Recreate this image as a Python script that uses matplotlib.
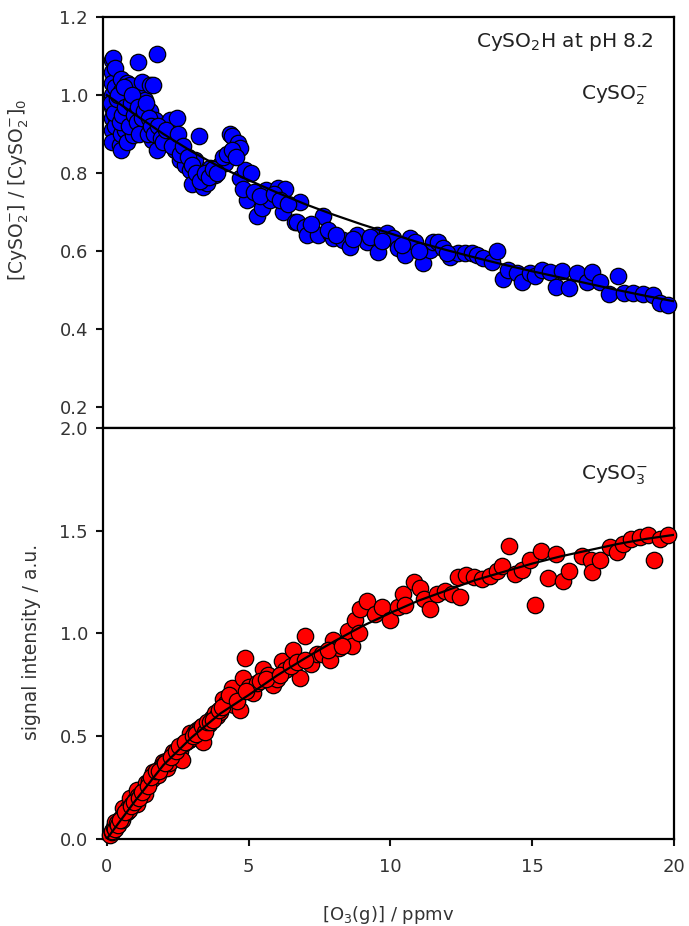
import matplotlib
matplotlib.use("Agg")
import matplotlib.pyplot as plt

plt.rcParams['font.family'] = ['DejaVu Sans']
plt.rcParams['mathtext.default'] = 'regular'

# ---------------- data: top panel (CySO2-) ----------------
top_x = [0.2, 0.2, 0.2, 0.2, 0.2, 0.2, 0.2, 0.2, 0.23, 0.3, 0.3, 0.3, 0.3,
         0.47, 0.5, 0.5, 0.5, 0.5, 0.5, 0.58, 0.64, 0.7, 0.7, 0.7, 0.7, 0.7,
         0.75, 0.82, 0.93, 1.0, 1.09, 1.17, 1.24, 1.35, 1.42, 1.53, 1.53,
         1.6, 1.64, 1.7, 1.77, 1.77, 1.88, 2.05, 2.16, 2.23, 2.24, 2.4, 2.47,
         2.58, 2.58, 2.76, 2.94, 3.0, 3.12, 3.25, 3.28, 3.4, 3.54, 3.64, 3.82,
         4.0, 4.17, 4.35, 4.42, 4.46, 4.63, 4.7, 4.7, 4.88, 4.95, 5.1, 5.3,
         5.47, 5.6, 5.75, 6.03, 6.2, 6.28, 6.63, 6.7, 6.8, 7.0, 7.06, 7.45,
         7.63, 7.87, 7.98, 8.33, 8.58, 8.82, 9.17, 9.52, 9.57, 9.88, 10.1,
         10.27, 10.52, 10.7, 10.87, 11.16, 11.4, 11.5, 11.68, 11.86, 12.1,
         12.4, 12.64, 12.89, 13.05, 13.28, 13.58, 13.76, 13.98, 14.15, 14.47,
         14.65, 14.93, 15.1, 15.35, 15.63, 15.84, 16.05, 16.3, 16.6, 16.93,
         17.1, 17.38, 17.7, 18.03, 18.24, 18.55, 18.9, 19.25, 19.5, 19.78,
         0.15, 0.25, 0.35, 0.4, 0.45, 0.55, 0.6, 0.65, 0.8, 0.85, 0.9, 0.95,
         1.05, 1.1, 1.15, 1.25, 1.3, 1.4, 1.45, 1.5, 1.55, 1.65, 1.8, 1.9,
         2.0, 2.1, 2.3, 2.5, 2.6, 2.7, 2.85, 3.0, 3.15, 3.3, 3.45, 3.6, 3.75,
         3.9, 4.1, 4.25, 4.4, 4.55, 4.8, 5.2, 5.4, 5.9, 6.1, 6.4, 7.2, 7.8,
         8.1, 8.7, 9.3, 9.7, 10.4, 11.0, 12.0]
top_y = [1.09, 1.06, 1.03, 1.00, 0.97, 0.94, 0.91, 0.88, 1.095, 1.07, 1.02,
         0.95, 0.92, 0.872, 0.86, 0.90, 0.97, 1.01, 1.04, 0.99, 0.91, 0.88,
         0.93, 0.96, 0.99, 1.03, 0.936, 1.026, 0.897, 0.96, 1.085, 1.0, 1.033,
         0.987, 0.923, 0.96, 1.026, 0.885, 1.026, 0.936, 0.86, 1.105, 0.91,
         0.923, 0.897, 0.936, 0.885, 0.86, 0.94, 0.833, 0.872, 0.82, 0.808,
         0.772, 0.833, 0.895, 0.795, 0.764, 0.774, 0.813, 0.795, 0.82, 0.826,
         0.90, 0.895, 0.846, 0.877, 0.864, 0.787, 0.808, 0.73, 0.80, 0.69,
         0.71, 0.756, 0.73, 0.762, 0.70, 0.76, 0.675, 0.675, 0.726, 0.662,
         0.641, 0.641, 0.69, 0.646, 0.633, 0.628, 0.61, 0.641, 0.623, 0.64,
         0.597, 0.646, 0.633, 0.608, 0.59, 0.633, 0.623, 0.569, 0.603, 0.623,
         0.623, 0.608, 0.585, 0.595, 0.595, 0.595, 0.59, 0.582, 0.572, 0.60,
         0.528, 0.551, 0.544, 0.521, 0.544, 0.535, 0.551, 0.546, 0.508, 0.549,
         0.505, 0.544, 0.521, 0.546, 0.521, 0.49, 0.536, 0.492, 0.492, 0.49,
         0.487, 0.467, 0.462,
         0.98, 0.955, 0.99, 1.0, 0.93, 0.95, 1.02, 0.97, 0.92, 0.98, 1.0, 0.95,
         0.93, 0.97, 0.90, 0.94, 0.96, 0.98, 0.90, 0.94, 0.92, 0.90, 0.92, 0.89,
         0.88, 0.91, 0.87, 0.90, 0.85, 0.87, 0.84, 0.82, 0.80, 0.78, 0.80, 0.79,
         0.81, 0.80, 0.84, 0.85, 0.86, 0.84, 0.76, 0.75, 0.74, 0.745, 0.73,
         0.72, 0.67, 0.655, 0.64, 0.63, 0.635, 0.625, 0.615, 0.60, 0.595]
top_fit_x = [0, 1, 2, 3, 4, 5, 6, 7, 8, 9, 10, 11, 12, 13, 14, 15, 16, 17, 18, 19, 20]
top_fit_y = [1.0, 0.95, 0.90, 0.855, 0.815, 0.782, 0.75, 0.72, 0.693, 0.668,
             0.645, 0.622, 0.602, 0.583, 0.565, 0.548, 0.532, 0.516, 0.50,
             0.485, 0.471]

# ---------------- data: bottom panel (CySO3-) ----------------
bot_x = [0.1, 0.18, 0.2, 0.25, 0.29, 0.3, 0.35, 0.4, 0.5, 0.55, 0.58, 0.6,
         0.7, 0.75, 0.8, 0.82, 0.9, 1.0, 1.05, 1.06, 1.1, 1.2, 1.3, 1.35, 1.4,
         1.5, 1.6, 1.64, 1.7, 1.8, 1.9, 1.99, 2.0, 2.1, 2.12, 2.2, 2.3, 2.34,
         2.4, 2.5, 2.6, 2.65, 2.7, 2.8, 2.9, 2.94, 3.0, 3.1, 3.2, 3.29, 3.3,
         3.4, 3.5, 3.6, 3.7, 3.82, 3.9, 4.0, 4.1, 4.2, 4.42, 4.5, 4.7, 4.81,
         4.88, 5.0, 5.16, 5.3, 5.51, 5.7, 5.87, 6.0, 6.17, 6.3, 6.57, 6.81,
         6.99, 7.2, 7.41, 7.6, 7.87, 7.99, 8.2, 8.51, 8.65, 8.76, 8.93, 9.18,
         9.46, 9.7, 10.0, 10.27, 10.45, 10.52, 10.83, 11.05, 11.2, 11.4, 11.65,
         11.93, 12.18, 12.4, 12.46, 12.67, 12.96, 13.24, 13.5, 13.76, 13.94,
         14.19, 14.4, 14.64, 14.92, 15.1, 15.3, 15.55, 15.83, 16.1, 16.29,
         16.75, 17.08, 17.1, 17.4, 17.75, 18.0, 18.2, 18.5, 18.8, 19.1, 19.3,
         19.5, 19.8,
         0.45, 0.65, 0.85, 0.95, 1.15, 1.25, 1.45, 1.55, 1.75, 1.85, 2.05,
         2.25, 2.45, 2.55, 2.75, 3.05, 3.15, 3.35, 3.45, 3.55, 3.65, 3.75,
         3.95, 4.05, 4.3, 4.6, 4.9, 5.4, 5.6, 6.1, 6.5, 6.7, 7.0, 7.8, 8.3, 8.9]
bot_y = [0.02, 0.034, 0.04, 0.06, 0.083, 0.05, 0.08, 0.07, 0.10, 0.09, 0.15,
         0.12, 0.13, 0.15, 0.14, 0.20, 0.17, 0.19, 0.17, 0.24, 0.21, 0.22,
         0.24, 0.22, 0.27, 0.28, 0.29, 0.327, 0.32, 0.31, 0.35, 0.376, 0.36,
         0.38, 0.346, 0.37, 0.41, 0.424, 0.42, 0.44, 0.43, 0.385, 0.46, 0.47,
         0.48, 0.517, 0.49, 0.52, 0.53, 0.54, 0.54, 0.473, 0.55, 0.56, 0.59,
         0.615, 0.60, 0.62, 0.68, 0.66, 0.737, 0.65, 0.63, 0.785, 0.88, 0.74,
         0.71, 0.76, 0.825, 0.80, 0.75, 0.78, 0.864, 0.82, 0.92, 0.785, 0.99,
         0.85, 0.898, 0.90, 0.873, 0.97, 0.93, 1.01, 0.937, 1.068, 1.117,
         1.156, 1.093, 1.13, 1.068, 1.127, 1.19, 1.14, 1.249, 1.22, 1.166,
         1.117, 1.19, 1.205, 1.19, 1.273, 1.176, 1.283, 1.273, 1.263, 1.278,
         1.302, 1.327, 1.424, 1.288, 1.307, 1.36, 1.14, 1.40, 1.27, 1.385,
         1.254, 1.302, 1.376, 1.36, 1.298, 1.36, 1.42, 1.395, 1.434, 1.459,
         1.468, 1.478, 1.36, 1.459, 1.478,
         0.09, 0.13, 0.16, 0.18, 0.20, 0.23, 0.26, 0.30, 0.33, 0.33, 0.37,
         0.40, 0.43, 0.45, 0.47, 0.50, 0.51, 0.55, 0.52, 0.57, 0.57, 0.58,
         0.63, 0.64, 0.70, 0.67, 0.72, 0.77, 0.78, 0.80, 0.84, 0.86, 0.87,
         0.92, 0.94, 1.00]
bot_fit_x = [0, 1, 2, 3, 4, 5, 6, 7, 8, 9, 10, 11, 12, 13, 14, 15, 16, 17, 18, 19, 20]
bot_fit_y = [0.0, 0.185, 0.36, 0.495, 0.61, 0.70, 0.795, 0.88, 0.96, 1.035,
             1.10, 1.16, 1.21, 1.26, 1.30, 1.34, 1.375, 1.405, 1.435, 1.46, 1.48]

xticks = [0, 5, 10, 15, 20]
top_yticks = [0.2, 0.4, 0.6, 0.8, 1.0, 1.2]
bot_yticks = [0.0, 0.5, 1.0, 1.5, 2.0]

fig = plt.figure(figsize=(6.89, 9.26), dpi=100)
L, R = 0.150, 0.978
ax1 = fig.add_axes([L, 0.5378, R - L, 0.9816 - 0.5378])
ax2 = fig.add_axes([L, 0.094, R - L, 0.5378 - 0.094])

ms = 140
tcol = '#333333'
for ax in (ax1, ax2):
    for s in ax.spines.values():
        s.set_linewidth(1.6)
    ax.set_xlim(-0.12, 20)
    ax.tick_params(axis='both', direction='out', length=5, width=1.5,
                   labelsize=13, colors='#111111', labelcolor=tcol, pad=6)

ax1.scatter(top_x, top_y, s=ms, c='#0000ff', edgecolors='black', linewidths=0.9, zorder=3)
ax1.plot(top_fit_x, top_fit_y, color='black', lw=1.6, zorder=4)
ax1.set_ylim(0.146, 1.2)
ax1.set_yticks(top_yticks)
ax1.set_yticklabels([f'{v:.1f}' for v in top_yticks])
ax1.set_xticks([])
ax1.set_ylabel(r'[CySO$_2^{-}$] / [CySO$_2^{-}$]$_0$', fontsize=13.5, color=tcol)
ax1.yaxis.set_label_coords(-0.126, 0.58)
ax1.text(0.965, 0.94, r'CySO$_2$H at pH 8.2', transform=ax1.transAxes,
         ha='right', va='center', fontsize=14.5, color='#222222')
ax1.text(0.955, 0.81, r'CySO$_2^{-}$', transform=ax1.transAxes,
         ha='right', va='center', fontsize=14.5, color='#222222')

ax2.scatter(bot_x, bot_y, s=ms, c='#ff0000', edgecolors='black', linewidths=0.9, zorder=3)
ax2.plot(bot_fit_x, bot_fit_y, color='black', lw=1.6, zorder=4)
ax2.set_ylim(0.0, 2.0)
ax2.set_yticks(bot_yticks)
ax2.set_yticklabels([f'{v:.1f}' for v in bot_yticks])
ax2.set_xticks(xticks)
ax2.set_xticklabels([str(v) for v in xticks])
ax2.tick_params(axis='x', pad=9)
ax2.set_ylabel('signal intensity / a.u.', fontsize=13.5, color=tcol)
ax2.yaxis.set_label_coords(-0.11, 0.48)
ax2.set_xlabel(r'[O$_3$(g)] / ppmv', fontsize=13, color=tcol, labelpad=20)
ax2.text(0.955, 0.885, r'CySO$_3^{-}$', transform=ax2.transAxes,
         ha='right', va='center', fontsize=14.5, color='#222222')

for ax in (ax1, ax2):
    for c in ax.collections:
        c.set_clip_on(False)

fig.savefig('out.png', dpi=100)
